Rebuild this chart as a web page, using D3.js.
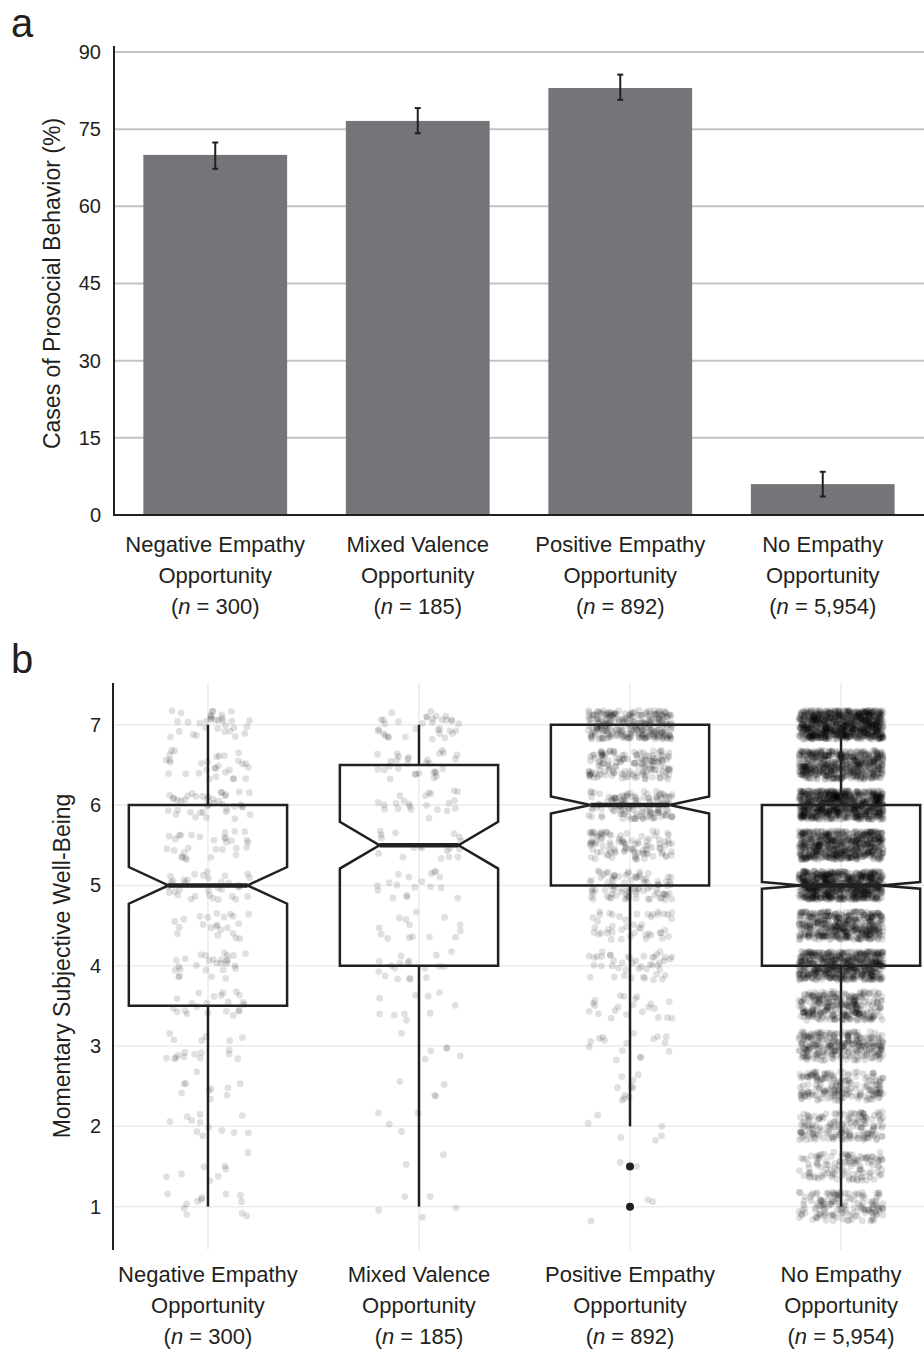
<!DOCTYPE html>
<html>
<head>
<meta charset="utf-8">
<script src="https://cdn.jsdelivr.net/npm/d3@7"></script>
<style>
  body { margin: 0; background: #fff; }
  text { font-family: "Liberation Sans", Arial, sans-serif; fill: #231f20; }
</style>
</head>
<body>
<div id="vis-container"></div>
<script>
// categories
var categories = ["Negative Empathy", "Mixed Valence", "Positive Empathy", "No Empathy"];
var categorySub = ["Opportunity", "Opportunity", "Opportunity", "Opportunity"];
var sampleSizes = [300, 185, 892, 5954];

// panel a: prosocial behaviour (%)
var prosocialPct = [70.0, 76.6, 83.0, 6.0];
var prosocialLow = [67.3, 74.2, 80.7, 3.6];
var prosocialHigh = [72.4, 79.1, 85.6, 8.4];
var pctTicks = [0, 15, 30, 45, 60, 75, 90];

// panel b: box statistics
var boxQ1 = [3.5, 4.0, 5.0, 4.0];
var boxMedian = [5.0, 5.5, 6.0, 5.0];
var boxQ3 = [6.0, 6.5, 7.0, 6.0];
var whiskerLow = [1, 1, 2, 1];
var whiskerHigh = [7, 7, 7, 7];
var outliers = [[], [], [1.5, 1.0], []];
var wellBeingTicks = [1, 2, 3, 4, 5, 6, 7];

// panel b: responses per rating level
var ratingLevels = [1, 1.5, 2, 2.5, 3, 3.5, 4, 4.5, 5, 5.5, 6, 6.5, 7];
var countsNegative = [12, 8, 12, 10, 18, 22, 28, 22, 35, 30, 40, 30, 33];
var countsMixed = [5, 2, 4, 4, 6, 10, 18, 14, 18, 18, 22, 30, 34];
var countsPositive = [3, 2, 6, 10, 16, 22, 45, 45, 90, 100, 130, 150, 273];
var countsNone = [150, 120, 170, 190, 280, 300, 600, 480, 750, 650, 800, 580, 884];
var ratingCounts = [countsNegative, countsMixed, countsPositive, countsNone];

var width = 924;
var height = 1352;
var ink = "#231f20";

var svg = d3.select("#vis-container")
	.append("svg")
	.attr("width", width)
	.attr("height", height);

function categoryLabel(g, x, y0, i) {
	var t = g.append("text")
		.attr("text-anchor", "middle")
		.style("font-size", "22px");
	t.append("tspan").attr("x", x).attr("y", y0).text(categories[i]);
	t.append("tspan").attr("x", x).attr("y", y0 + 31).text(categorySub[i]);
	var last = t.append("tspan").attr("x", x).attr("y", y0 + 62);
	last.text("(");
	t.append("tspan").style("font-style", "italic").text("n");
	t.append("tspan").text(" = " + d3.format(",")(sampleSizes[i]) + ")");
}

// ---------- panel a ----------
var a = svg.append("g");

var xA = d3.scaleBand().domain(categories).range([114, 924])
	.paddingInner(0.29).paddingOuter(0.145);
var yA = d3.scaleLinear().domain([0, 90]).range([515, 52]);

a.append("text").attr("x", 11).attr("y", 37)
	.style("font-size", "40px").text("a");

a.selectAll("line.grid")
	.data(pctTicks.filter(function(d) { return d > 0; }))
	.enter().append("line")
	.attr("x1", 114).attr("x2", 924)
	.attr("y1", function(d) { return yA(d); })
	.attr("y2", function(d) { return yA(d); })
	.attr("stroke", "#c3c3c3").attr("stroke-width", 2);

a.selectAll("rect.bar")
	.data(prosocialPct)
	.enter().append("rect")
	.attr("x", function(d, i) { return xA(categories[i]); })
	.attr("width", xA.bandwidth())
	.attr("y", function(d) { return yA(d); })
	.attr("height", function(d) { return yA(0) - yA(d); })
	.attr("fill", "#747579");

var err = a.selectAll("g.err").data(prosocialPct).enter().append("g")
	.attr("stroke", ink).attr("stroke-width", 2);
err.append("line")
	.attr("x1", function(d, i) { return xA(categories[i]) + xA.bandwidth() / 2; })
	.attr("x2", function(d, i) { return xA(categories[i]) + xA.bandwidth() / 2; })
	.attr("y1", function(d, i) { return yA(prosocialLow[i]); })
	.attr("y2", function(d, i) { return yA(prosocialHigh[i]); });
[prosocialLow, prosocialHigh].forEach(function(arr) {
	err.append("line")
		.attr("x1", function(d, i) { return xA(categories[i]) + xA.bandwidth() / 2 - 3; })
		.attr("x2", function(d, i) { return xA(categories[i]) + xA.bandwidth() / 2 + 3; })
		.attr("y1", function(d, i) { return yA(arr[i]); })
		.attr("y2", function(d, i) { return yA(arr[i]); });
});

var yAxisA = a.append("g").attr("transform", "translate(114,0)")
	.call(d3.axisLeft(yA).tickValues(pctTicks).tickSize(0).tickPadding(13));
yAxisA.select(".domain").remove();
yAxisA.selectAll("text").style("font-size", "20px").attr("fill", ink)
	.style("font-family", null);

a.append("line").attr("x1", 114).attr("x2", 114).attr("y1", 46).attr("y2", 516)
	.attr("stroke", ink).attr("stroke-width", 2);
a.append("line").attr("x1", 113).attr("x2", 924).attr("y1", 515).attr("y2", 515)
	.attr("stroke", ink).attr("stroke-width", 2);

a.append("text")
	.attr("transform", "translate(60," + yA(45) + ") rotate(-90)")
	.attr("text-anchor", "middle")
	.style("font-size", "23px")
	.text("Cases of Prosocial Behavior (%)");

categories.forEach(function(c, i) {
	categoryLabel(a, xA(c) + xA.bandwidth() / 2, 552, i);
});

// ---------- panel b ----------
var b = svg.append("g");

var xB = d3.scalePoint().domain(categories).range([113, 936]).padding(0.45);
var yB = d3.scaleLinear().domain([0.46, 7.52]).range([1250, 683]);
var step = xB.step();

b.append("text").attr("x", 11).attr("y", 673)
	.style("font-size", "40px").text("b");

b.selectAll("line.hgrid").data(wellBeingTicks).enter().append("line")
	.attr("x1", 113).attr("x2", 924)
	.attr("y1", function(d) { return yB(d); })
	.attr("y2", function(d) { return yB(d); })
	.attr("stroke", "#ebebeb").attr("stroke-width", 1.5);
b.selectAll("line.vgrid").data(categories).enter().append("line")
	.attr("x1", function(d) { return xB(d); })
	.attr("x2", function(d) { return xB(d); })
	.attr("y1", 683).attr("y2", 1250)
	.attr("stroke", "#ebebeb").attr("stroke-width", 1.5);

// jittered responses (seeded jitter, like geom_jitter)
var rng = d3.randomLcg(0.4217);
var jitterX = d3.randomUniform.source(rng)(-0.2, 0.2);
var jitterY = d3.randomUniform.source(rng)(-0.18, 0.18);
var points = [];
ratingCounts.forEach(function(counts, ci) {
	counts.forEach(function(n, li) {
		for (var k = 0; k < n; k++) {
			points.push({ cat: categories[ci], value: ratingLevels[li], dx: jitterX(), dy: jitterY() });
		}
	});
});

b.append("g").selectAll("circle").data(points).enter().append("circle")
	.attr("cx", function(d) { return xB(d.cat) + d.dx * step; })
	.attr("cy", function(d) { return yB(d.value + d.dy); })
	.attr("r", 3.4)
	.attr("fill", "#000")
	.attr("fill-opacity", 0.12);

// notched boxes
var boxes = b.append("g").attr("fill", "none").attr("stroke", ink);
categories.forEach(function(c, i) {
	var x = xB(c);
	var hw = 0.375 * step;
	var nw = hw / 2;
	var notch = 1.58 * (boxQ3[i] - boxQ1[i]) / Math.sqrt(sampleSizes[i]);
	var pts = [
		[x - hw, yB(boxQ3[i])], [x + hw, yB(boxQ3[i])],
		[x + hw, yB(boxMedian[i] + notch)], [x + nw, yB(boxMedian[i])],
		[x + hw, yB(boxMedian[i] - notch)], [x + hw, yB(boxQ1[i])],
		[x - hw, yB(boxQ1[i])], [x - hw, yB(boxMedian[i] - notch)],
		[x - nw, yB(boxMedian[i])], [x - hw, yB(boxMedian[i] + notch)]
	];
	boxes.append("path")
		.attr("d", "M" + pts.join("L") + "Z")
		.attr("stroke-width", 2.5)
		.attr("stroke-linejoin", "miter");
	boxes.append("line")
		.attr("x1", x).attr("x2", x)
		.attr("y1", yB(boxQ3[i])).attr("y2", yB(whiskerHigh[i]))
		.attr("stroke-width", 2.5);
	boxes.append("line")
		.attr("x1", x).attr("x2", x)
		.attr("y1", yB(boxQ1[i])).attr("y2", yB(whiskerLow[i]))
		.attr("stroke-width", 2.5);
	boxes.append("line")
		.attr("x1", x - nw).attr("x2", x + nw)
		.attr("y1", yB(boxMedian[i])).attr("y2", yB(boxMedian[i]))
		.attr("stroke-width", 4.5);
	b.selectAll(null).data(outliers[i]).enter().append("circle")
		.attr("cx", x).attr("cy", function(d) { return yB(d); })
		.attr("r", 4).attr("fill", ink);
});

var yAxisB = b.append("g").attr("transform", "translate(113,0)")
	.call(d3.axisLeft(yB).tickValues(wellBeingTicks).tickFormat(d3.format("d"))
		.tickSize(0).tickPadding(12));
yAxisB.select(".domain").remove();
yAxisB.selectAll("text").style("font-size", "20px").attr("fill", ink)
	.style("font-family", null);

b.append("line").attr("x1", 113).attr("x2", 113).attr("y1", 683).attr("y2", 1250)
	.attr("stroke", ink).attr("stroke-width", 2);

b.append("text")
	.attr("transform", "translate(70,966) rotate(-90)")
	.attr("text-anchor", "middle")
	.style("font-size", "23px")
	.text("Momentary Subjective Well-Being");

categories.forEach(function(c, i) {
	categoryLabel(b, xB(c), 1282, i);
});
</script>
</body>
</html>
